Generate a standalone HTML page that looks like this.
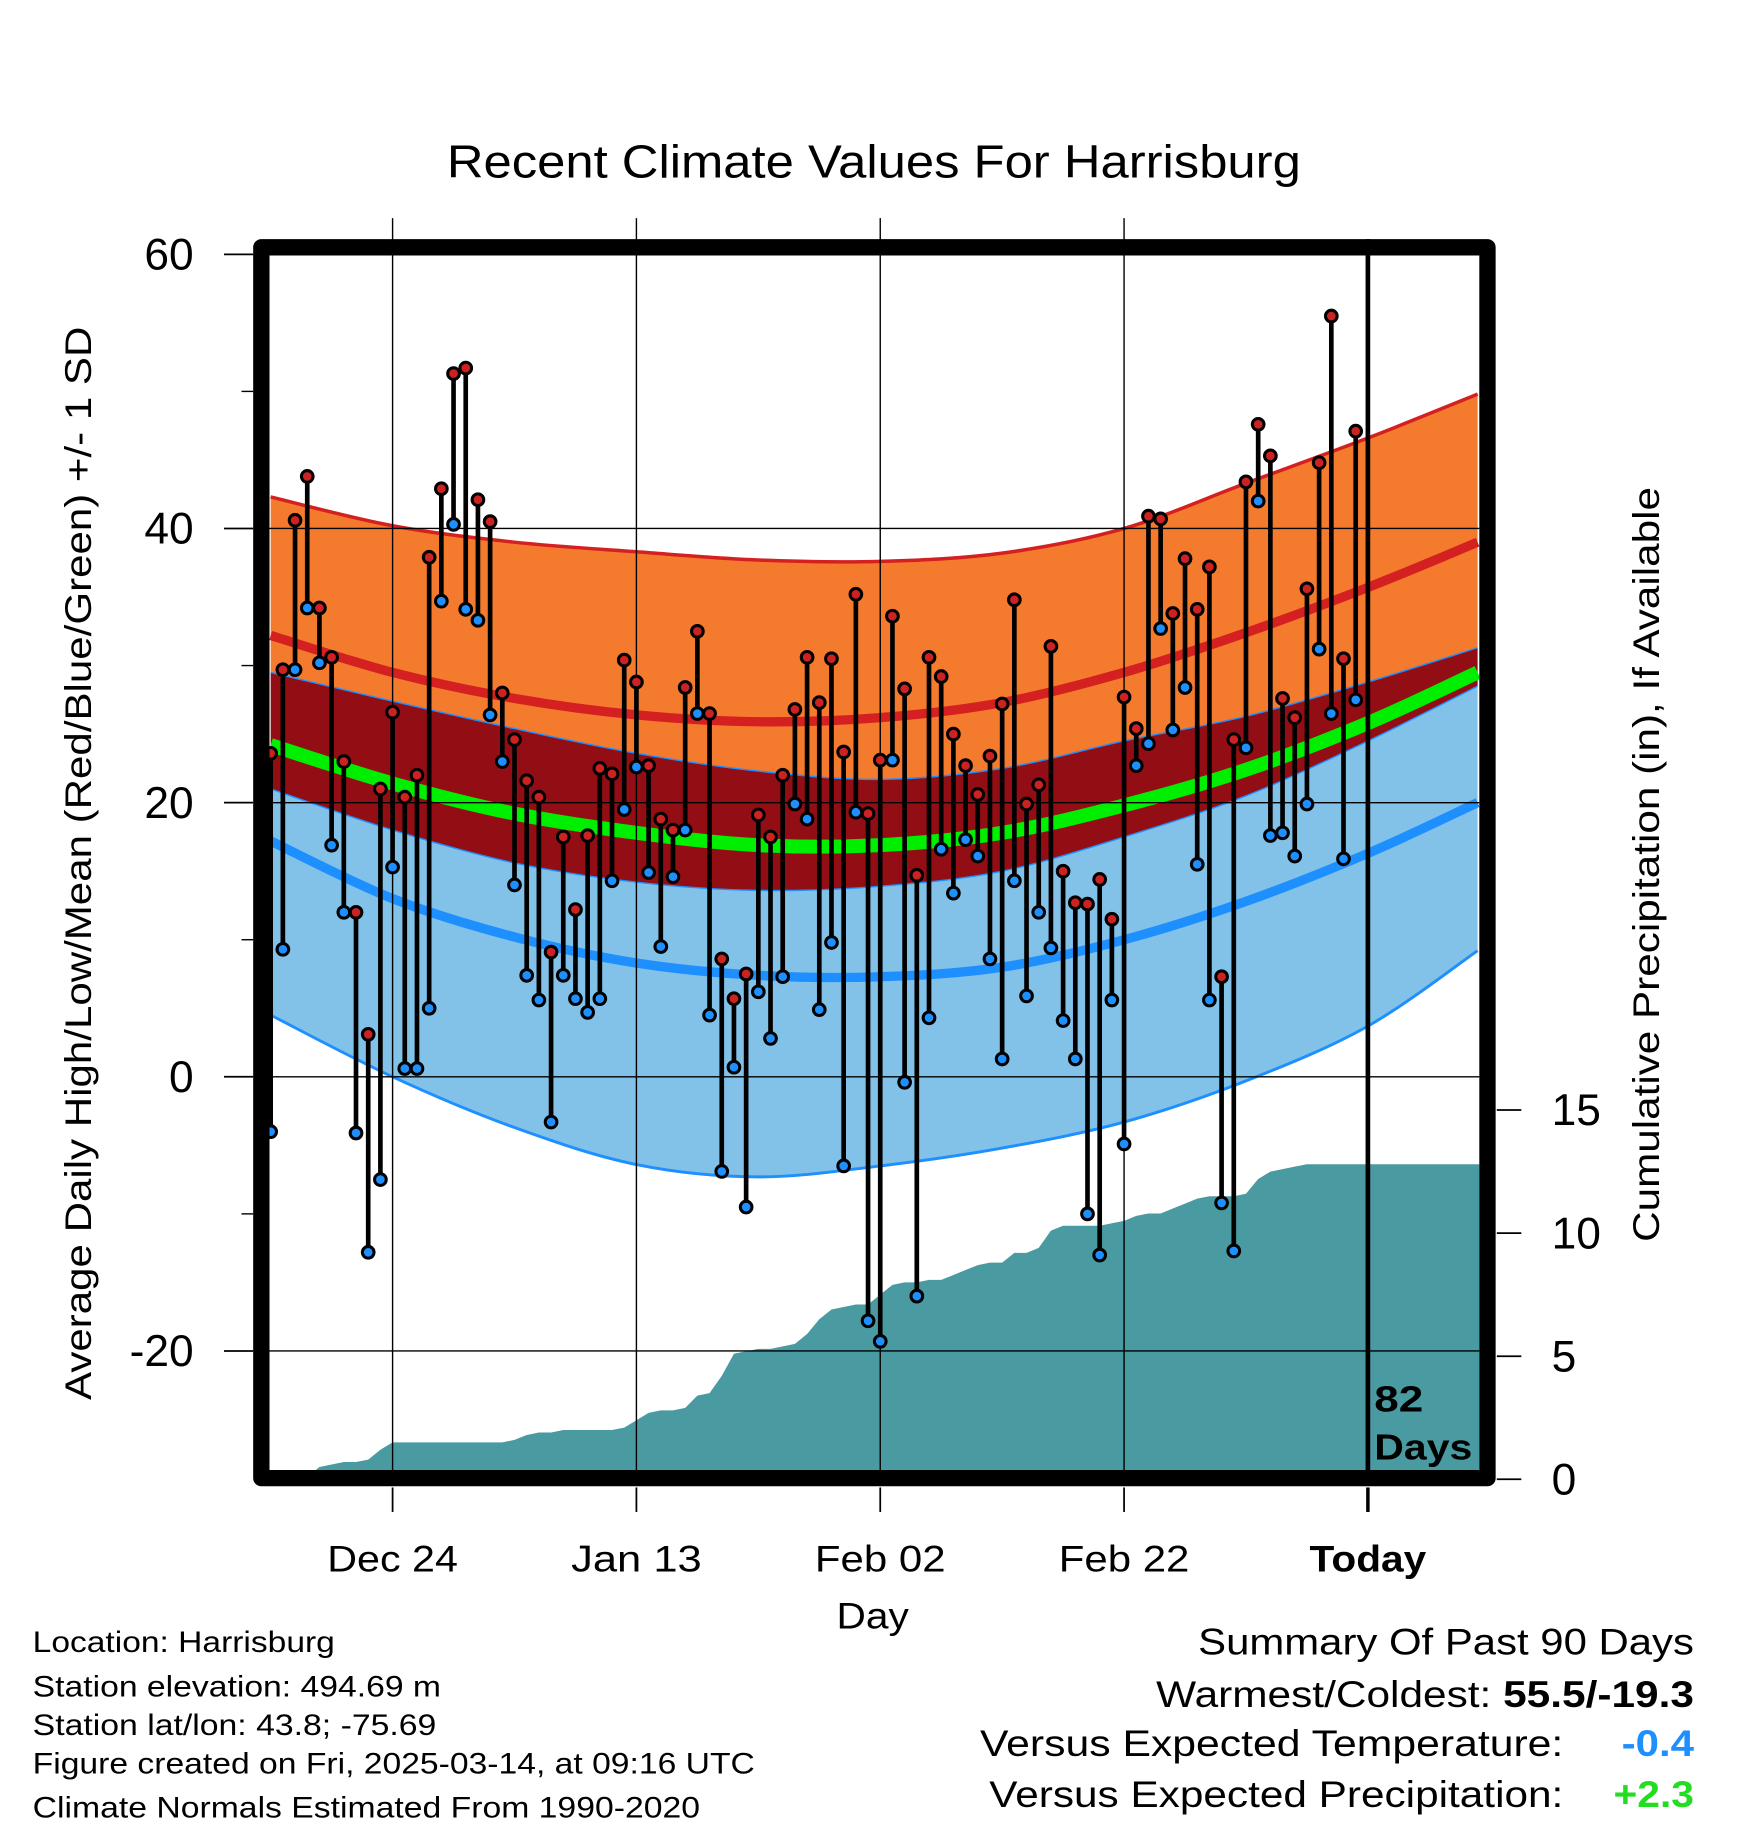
<!DOCTYPE html>
<html><head><meta charset="utf-8"><style>
html,body{margin:0;padding:0;background:#fff;}
svg{display:block;font-family:"Liberation Sans",Arial,sans-serif;}
</style></head><body>
<svg id="chart" xmlns="http://www.w3.org/2000/svg" width="1748" height="1828" viewBox="0 0 1498.3 1566.9">
<rect x="0" y="0" width="1498.3" height="1566.9" fill="#fff"/>
<text x="749" y="152" font-size="40" text-anchor="middle" textLength="732" lengthAdjust="spacingAndGlyphs">Recent Climate Values For Harrisburg</text>
<g id="bands"></g>
<g id="precip"></g>
<g id="grid"></g>
<g id="stems"></g>
<g id="axes"></g>
<text x="1178" y="1210" font-size="31" font-weight="bold" textLength="42" lengthAdjust="spacingAndGlyphs">82</text>
<text x="1178" y="1251" font-size="31" font-weight="bold" textLength="84" lengthAdjust="spacingAndGlyphs">Days</text>
<text transform="translate(78,740) rotate(-90)" font-size="32" text-anchor="middle" textLength="920" lengthAdjust="spacingAndGlyphs">Average Daily High/Low/Mean (Red/Blue/Green) +/- 1 SD</text>
<text transform="translate(1422,741) rotate(-90)" font-size="32" text-anchor="middle" textLength="647" lengthAdjust="spacingAndGlyphs">Cumulative Precipitation (in), If Available</text>
<text x="748" y="1396" font-size="32" text-anchor="middle" textLength="62" lengthAdjust="spacingAndGlyphs">Day</text>
<g font-size="25.5">
<text x="28" y="1416" textLength="259" lengthAdjust="spacingAndGlyphs">Location: Harrisburg</text>
<text x="28" y="1454" textLength="350" lengthAdjust="spacingAndGlyphs">Station elevation: 494.69 m</text>
<text x="28" y="1487" textLength="346" lengthAdjust="spacingAndGlyphs">Station lat/lon: 43.8; -75.69</text>
<text x="28" y="1520" textLength="619" lengthAdjust="spacingAndGlyphs">Figure created on Fri, 2025-03-14, at 09:16 UTC</text>
<text x="28" y="1558" textLength="572" lengthAdjust="spacingAndGlyphs">Climate Normals Estimated From 1990-2020</text>
</g>
<g font-size="32">
<text x="1452" y="1418" text-anchor="end" textLength="425" lengthAdjust="spacingAndGlyphs">Summary Of Past 90 Days</text>
<text x="1452" y="1463" text-anchor="end" textLength="461" lengthAdjust="spacingAndGlyphs">Warmest/Coldest: <tspan font-weight="bold">55.5/-19.3</tspan></text>
<text x="1340" y="1505" text-anchor="end" textLength="500" lengthAdjust="spacingAndGlyphs">Versus Expected Temperature:</text>
<text x="1452" y="1505" text-anchor="end" font-weight="bold" fill="#1e8fff" textLength="62" lengthAdjust="spacingAndGlyphs">-0.4</text>
<text x="1340" y="1549" text-anchor="end" textLength="492" lengthAdjust="spacingAndGlyphs">Versus Expected Precipitation:</text>
<text x="1452" y="1549" text-anchor="end" font-weight="bold" fill="#22dd22" textLength="69" lengthAdjust="spacingAndGlyphs">+2.3</text>
</g>
</svg>
<script>
const normDays=[0,10,20,30,40,50,60,70,80,90,99];
const normHighTop=[42.3,40.2,39.0,38.3,37.7,37.6,38.2,40.0,43.3,46.6,49.8];
const normHigh=[32.2,29.5,27.6,26.4,25.9,26.2,27.3,29.5,32.4,35.7,39.0];
const normHighBottom=[29.5,27.4,25.4,23.6,22.3,21.7,22.5,24.5,26.3,28.8,31.3];
const normMean=[24.2,21.4,19.2,17.8,16.9,16.9,17.8,19.8,22.4,25.8,29.5];
const normLowTop=[21.0,18.0,15.6,14.2,13.6,13.9,15.0,17.5,20.5,24.5,28.5];
const normLow=[17.2,13.0,10.2,8.3,7.4,7.3,8.0,10.0,12.8,16.3,20.0];
const normLowBottom=[4.5,0.0,-3.7,-6.4,-7.3,-6.5,-5.2,-3.3,-0.3,3.7,9.2];
const highs=[23.6,29.7,40.6,43.8,34.2,30.6,23.0,12.0,3.1,21.0,26.6,20.4,22.0,37.9,42.9,51.3,51.7,42.1,40.5,28.0,24.6,21.6,20.4,9.1,17.5,12.2,17.6,22.5,22.1,30.4,28.8,22.7,18.8,18.0,28.4,32.5,26.5,8.6,5.7,7.5,19.1,17.5,22.0,26.8,30.6,27.3,30.5,23.7,35.2,19.2,23.1,33.6,28.3,14.7,30.6,29.2,25.0,22.7,20.6,23.4,27.2,34.8,19.9,21.3,31.4,15.0,12.7,12.6,14.4,11.5,27.7,25.4,40.9,40.7,33.8,37.8,34.1,37.2,7.3,24.6,43.4,47.6,45.3,27.6,26.2,35.6,44.8,55.5,30.5,47.1];
const lows=[-4.0,9.3,29.7,34.2,30.2,16.9,12.0,-4.1,-12.8,-7.5,15.3,0.6,0.6,5.0,34.7,40.3,34.1,33.3,26.4,23.0,14.0,7.4,5.6,-3.3,7.4,5.7,4.7,5.7,14.3,19.5,22.6,14.9,9.5,14.6,18.0,26.5,4.5,-6.9,0.7,-9.5,6.2,2.8,7.3,19.9,18.8,4.9,9.8,-6.5,19.3,-17.8,-19.3,23.1,-0.4,-16.0,4.3,16.6,13.4,17.3,16.1,8.6,1.3,14.3,5.9,12.0,9.4,4.1,1.3,-10.0,-13.0,5.6,-4.9,22.7,24.3,32.7,25.3,28.4,15.5,5.6,-9.2,-12.7,24.0,42.0,17.6,17.8,16.1,19.9,31.2,26.5,15.9,27.5];
const precipCum=[0,0,0,0.1,0.5,0.6,0.7,0.7,0.8,1.2,1.5,1.5,1.5,1.5,1.5,1.5,1.5,1.5,1.5,1.5,1.6,1.8,1.9,1.9,2.0,2.0,2.0,2.0,2.0,2.1,2.4,2.7,2.8,2.8,2.9,3.4,3.5,4.2,5.1,5.2,5.3,5.3,5.4,5.5,5.9,6.5,6.9,7.0,7.1,7.1,7.5,7.9,8.0,8.0,8.1,8.1,8.3,8.5,8.7,8.8,8.8,9.2,9.2,9.4,10.1,10.3,10.3,10.3,10.3,10.4,10.5,10.7,10.8,10.8,11.0,11.2,11.4,11.5,11.5,11.5,11.6,12.2,12.5,12.6,12.7,12.8,12.8,12.8,12.8,12.8];
const yTicks=[60,40,20,0,-20];
const yMinor=[50,30,10,-10];
const y2Ticks=[0,5,10,15];
const xTickDays=[10,30,50,70,90];
const xTickLabels=["Dec 24","Jan 13","Feb 02","Feb 22","Today"];

const NS="http://www.w3.org/2000/svg";
const L=231,R=1268,T=219,B=1260;
const X=d=>232+10.45*d;
const Y=t=>923-11.75*t;
const Y2=p=>1268-21.1*p;
function el(tag,attrs,parent){const e=document.createElementNS(NS,tag);for(const k in attrs)e.setAttribute(k,attrs[k]);parent.appendChild(e);return e;}
function smooth(days,vals){
  const p=days.map((d,i)=>[X(d),Y(vals[i])]);
  let s="M"+p[0][0]+","+p[0][1];
  for(let i=0;i<p.length-1;i++){
    const p0=p[Math.max(0,i-1)],p1=p[i],p2=p[i+1],p3=p[Math.min(p.length-1,i+2)];
    const c1=[p1[0]+(p2[0]-p0[0])/6,p1[1]+(p2[1]-p0[1])/6];
    const c2=[p2[0]-(p3[0]-p1[0])/6,p2[1]-(p3[1]-p1[1])/6];
    s+=" C"+c1+" "+c2+" "+p2;
  }
  return s;
}
function revSmooth(days,vals){return smooth(days.slice().reverse(),vals.slice().reverse()).replace(/^M/,"L");}
const bands=document.getElementById("bands");
let e;
e=el("path",{d:smooth(normDays,normHighTop)+" "+revSmooth(normDays,normHighBottom)+"Z",fill:"#f47a2e"},bands);


e=el("path",{d:smooth(normDays,normHighBottom)+" "+revSmooth(normDays,normLowTop)+"Z",fill:"#930e14"},bands);


e=el("path",{d:smooth(normDays,normLowTop)+" "+revSmooth(normDays,normLowBottom)+"Z",fill:"#82c1e8"},bands);


e=el("path",{d:smooth(normDays,normHighTop),fill:"none",stroke:"#d42020","stroke-width":3},bands);


e=el("path",{d:smooth(normDays,normHigh),fill:"none",stroke:"#d42020","stroke-width":8},bands);


e=el("path",{d:smooth(normDays,normLowTop),fill:"none",stroke:"#1e8fff","stroke-width":1.2},bands);


e=el("path",{d:smooth(normDays,normHighBottom),fill:"none",stroke:"#1e8fff","stroke-width":1.2},bands);


e=el("path",{d:smooth(normDays,normMean),fill:"none",stroke:"#00ee00","stroke-width":12},bands);


e=el("path",{d:smooth(normDays,normLow),fill:"none",stroke:"#1e8fff","stroke-width":8},bands);


e=el("path",{d:smooth(normDays,normLowBottom),fill:"none",stroke:"#1e8fff","stroke-width":2.5},bands);


// precipitation
let pd="M"+X(0)+","+B;
precipCum.forEach((v,i)=>{pd+=" L"+X(i)+","+Y2(v);});
pd+=" L"+R+","+Y2(precipCum[precipCum.length-1])+" L"+R+","+B+"Z";
e=el("path",{d:pd,fill:"#4a9aa2"},document.getElementById("precip"));


// grid
const grid=document.getElementById("grid");
yTicks.forEach(t=>{const y=Y(t);if(y>T+2&&y<B){e=el("line",{x1:L,x2:R,y1:y,y2:y,stroke:"#000","stroke-width":1.2},grid);

}});
xTickDays.forEach((d,i)=>{const x=X(d);
 if(i<xTickDays.length-1){e=el("line",{x1:x,x2:x,y1:187,y2:B,stroke:"#000","stroke-width":1.2},grid);}
 else{e=el("line",{x1:x,x2:x,y1:205,y2:B,stroke:"#000","stroke-width":4},grid);}
 
 
});
// stems & dots
const stems=document.getElementById("stems");
highs.forEach((h,i)=>{
 const x=X(i);
 e=el("line",{x1:x,x2:x,y1:Y(h),y2:Y(lows[i]),stroke:"#000","stroke-width":4},stems);
 
 
});
highs.forEach((h,i)=>{
 const x=X(i);
 e=el("circle",{cx:x,cy:Y(lows[i]),r:5,fill:"#1e8fff",stroke:"#000","stroke-width":2.6},stems);
 
 
 e=el("circle",{cx:x,cy:Y(h),r:5,fill:"#cc2222",stroke:"#000","stroke-width":2.6},stems);
 
 
});
// axes
const axes=document.getElementById("axes");
e=el("rect",{x:224,y:212,width:1051,height:1055,fill:"none",stroke:"#000","stroke-width":14,"stroke-linejoin":"round"},axes);


yTicks.forEach(t=>{const y=Y(t);
 e=el("line",{x1:192,x2:217,y1:y,y2:y,stroke:"#000","stroke-width":1.5},axes);
 
 
 e=el("text",{x:166,y:y+13,"font-size":38,"text-anchor":"end"},axes);e.textContent=t;
 
 
});
yMinor.forEach(t=>{const y=Y(t);
 e=el("line",{x1:207,x2:217,y1:y,y2:y,stroke:"#000","stroke-width":1.2},axes);
 
 
});
y2Ticks.forEach(p=>{const y=Y2(p);
 e=el("line",{x1:1283,x2:1304,y1:y,y2:y,stroke:"#000","stroke-width":1.5},axes);
 
 
 e=el("text",{x:1330,y:y+13,"font-size":38},axes);e.textContent=p;
 
 
});
xTickDays.forEach((d,i)=>{const x=X(d);
 e=el("line",{x1:x,x2:x,y1:1275,y2:1296,stroke:"#000","stroke-width":i==xTickDays.length-1?3:1.5},axes);
 
 
 e=el("text",{x:x,y:1347,"font-size":32,"text-anchor":"middle",textLength:(i==xTickDays.length-1?100:112),lengthAdjust:"spacingAndGlyphs"},axes);e.textContent=xTickLabels[i];
 if(i==xTickDays.length-1)e.setAttribute("font-weight","bold");
 
 
});
</script>
</body></html>
